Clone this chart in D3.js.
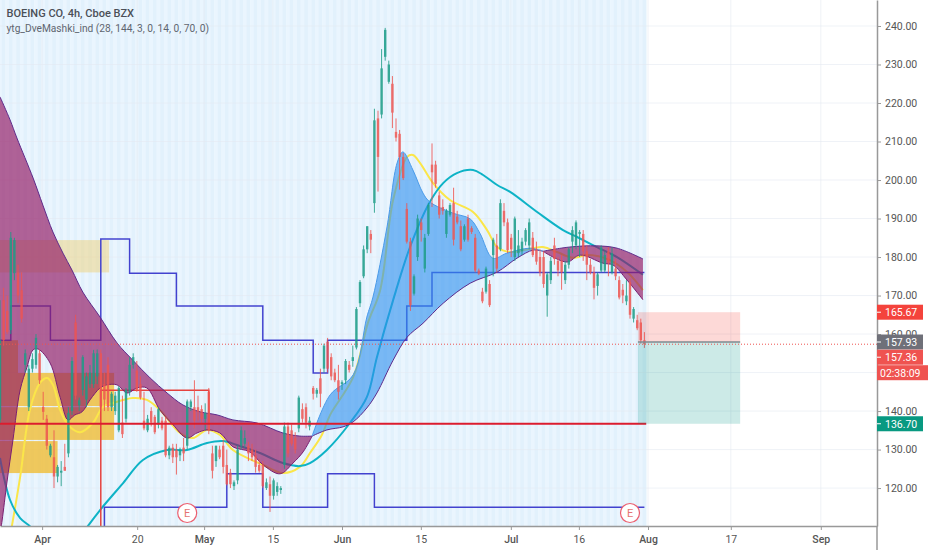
<!DOCTYPE html>
<html>
<head>
<meta charset="utf-8">
<script src="https://cdn.jsdelivr.net/npm/d3@7"></script>
<style>
  body { margin: 0; background: #fff; }
  svg { display: block; }
  text { font-family: Roboto, sans-serif; }
</style>
</head>
<body>
<svg></svg>
<script>
// bar number, open, high, low, close (bars are 4h candles)
const candles = [
[0,137.7,168.8,136.4,158.4],[1,168.8,172,157,158.4],[2,166,170,160,160.5],[3,161,186.5,160,185],[4,175.8,185,174,184.4],
[5,176,178,168,170],[6,171.4,176,163,164],[7,152,156,150,155],[8,141,152,140,151],[9,151,155,150,153.5],
[10,152,160,151,159],[11,155,156,147,148],[12,141.1,145,137.7,139.8],[13,138,139,130,131],[14,128.5,131.5,128,131],
[15,128,135,120,123],[16,123,126,121.5,125.5],[17,124,127,120.5,124.5],[18,125.5,131.5,124.5,124.5],[19,129,141,128,139.5],
[20,140,154,139,153],[21,163,165,143,144],[22,141.5,143.5,140,142.8],[23,145.5,154.5,144,154],[24,143,150,141,149],
[25,147,152,146,150],[26,147,155.9,146,155],[27,149,156,147,155],[28,155,156,140,141],[29,147,150,140,143],
[30,152,154,140,141],[31,141,145,140,144.5],[32,140,145,139,144],[33,135,146.5,134.5,146],[34,137,144,133,134],
[35,138,146,137,145.5],[36,145,154,144,152],[37,152,155,151,154],[38,150.5,153,145,145.5],[39,147,149,143,143.5],
[40,137.5,145,135,135.5],[41,135,139,134.5,138],[42,140,141,136,137],[43,138.5,139,134,134.5],[44,136.5,141,135.5,140.5],
[45,137.5,138.5,135,135.5],[46,137.5,138.5,128,128.5],[47,128.5,131,127.5,130.5],[48,130.5,131.5,126.5,128],[49,130,131.5,123.5,128],
[50,128.5,130.5,127,130],[51,130.5,133,127,129],[52,131,143,130,142.5],[53,141,143,140,142.5],[54,141,148,135.5,137.5],
[55,141,144,137.5,139.8],[56,140.5,141.5,137,138],[57,138,142,135,139.5],[58,145,146,134,135],[59,129,131,122.5,124.5],
[60,127,131,125.5,131],[61,130,131,127.5,128],[62,131,132.5,123.8,125.5],[63,126,130,120.7,121],[64,124,125,120,121],
[65,120.5,122,119.5,121.5],[66,122,131,121,130],[67,131,136,130,135],[68,131.5,135,130.5,133],[69,131,132,127,129],
[70,130,131.5,127,128],[71,128.5,130,124,125.5],[72,126,127.5,124,124.5],[73,126,127,120,120.5],[74,120,122.5,119.5,121.5],
[75,121,123,113.8,118],[76,118,122.5,117,122],[77,119,121.5,118,120.5],[78,119.5,120.5,118.5,120],[79,126,137,125,136],
[80,136,137,128,129],[81,135,136.5,131,131.5],[82,133,134.5,129,130],[83,135.5,144,134.5,143.5],[84,140.5,142,137,138],
[85,141,142,135.5,137],[86,136,138.5,135,137.5],[87,146,146.5,143,144.5],[88,144.5,146,143.5,145.5],[89,148.5,151,141,144.5],
[90,151,157.5,150,157],[91,158,159,150,151],[92,154,155,148,149],[93,150,151,147.5,148],[94,148,152,143,145],
[95,147,148,145.5,147.5],[96,148,153.5,147,153],[97,152,153,150,150.7],[98,153,157,151.5,154],[99,156.5,167,156,166.5],
[100,168,174,167,173.5],[101,175,183,174.5,182],[102,182,188,181,188],[103,186,187,181,184.5],[104,194,218.5,191.5,215.5],
[105,216,218,197,206],[106,217,234,216,229],[107,232,239.5,231,239],[108,225.5,231,225,230],[109,225,227,213.5,217.5],
[110,212.5,216,210,211],[111,212,213,197.5,206],[112,206,207,200,200.5],[113,192.5,194,183.5,184],[114,184,185,166,167.5],
[115,170.5,175.5,170,175],[116,180,191,179,190],[117,189,190,184,187],[118,177,186,176,185],[119,186,194,185.5,193.5],
[120,204,209.5,193,202],[121,204,205,198,199],[122,196,197,190,191],[123,193,195,191,192],[124,186,192.5,185,192],
[125,191,194,190.5,193.5],[126,194,198,183,184.5],[127,190.5,192,188.5,189],[128,188,189.5,181.5,182],[129,184.5,188.5,184,188],
[130,190,191,184,184.5],[131,187.5,188,186,186.5],[132,185,186,176,176.5],[133,176.5,177,175.3,175.7],[134,171,172,168,168.5],
[135,171,177.5,170.5,177],[136,173,174,167,167.5],[137,180.5,185,175,184.5],[138,183,186,176,177],[139,182,195,181.5,194],
[140,192,194,188,189],[141,189,190,181,181.8],[142,185,186,180,182],[143,180,190.5,179,190],[144,181,187,180,183],
[145,181.5,185,180.5,184],[146,184,187.5,183,187],[147,183,190,182,189],[148,185,186.5,180,180.5],[149,182,184,178,178.8],
[150,180,182,175,176],[151,180,181.5,172,173],[152,170,176,164.5,175.5],[153,174,180,173,179],[154,183,185,178,179.5],
[155,179,180,175,176.5],[156,179,180.5,171.5,176],[157,174,179,173,178],[158,178,182.5,177,182],[159,184,188,181,187],
[160,183,189.5,182,189],[161,186,187,180,186.5],[162,186,187,179,181.5],[163,181.5,183,174,178],[164,178,179.5,175.5,176],
[165,176,177.5,169,172],[166,172.5,176,170,175.5],[167,176.5,183,176,182.5],[168,176.5,181.5,176,180.5],[169,181.5,182.5,175,178.5],
[170,176,182.5,175.5,181],[171,177,179.5,174,175],[172,174,175,169,169.5],[173,171.5,173,168,170],[174,168.5,174,167.5,170],
[175,173.5,174.5,164,165],[176,164,167,163,166.5],[177,163.6,165,161,161.5],[178,163,164,157.5,158.4],[179,158.4,160.5,156.4,157.36]
]

// slow and fast averages as [bar, price]; the band between them changes colour where they cross
const slowMa = [[0,221.6],[2.8,215.6],[4.7,210.9],[9.2,200.5],[11.9,193.5],[14.7,186.5],[17.5,181],[20,176.6],[23,170.9],[27.8,164.4],[32.5,157.7],[36.9,153.2],[41.7,148.6],[46.4,144.7],[50.8,141.6],[55.6,139.8],[60.3,139],[64.7,137.7],[71.4,136.9],[78.6,134.3],[83.3,133.5],[86.7,133.5],[90.8,135.1],[95.3,135.9],[98.1,137.2],[101.9,140.8],[104.7,144.7],[109.2,153.2],[113.1,159.2],[117.5,162.8],[123.1,168],[130.6,173.2],[138.1,176.1],[143.6,179.7],[148.1,181.8],[150.8,181.5],[158.3,182.6],[165.8,182.9],[171.4,182.3],[178.6,179.5]]
const fastMa = [[0,108],[0.6,111.7],[1.9,121.3],[3.6,132.5],[5.6,145.5],[7.5,151.4],[9.2,155.9],[10.6,156.1],[13.9,152.5],[16.7,143.6],[18.9,137.7],[20.8,139],[22.8,139.8],[25,142.9],[27.8,146],[29.7,146.8],[32.5,146.8],[35.3,144.7],[38.1,146],[40.8,146],[44.4,140.3],[48.1,136.4],[51.9,133],[54.7,134.3],[57.5,135.1],[61.1,134.3],[64.7,130.7],[69.4,129.4],[73.1,126],[77.8,123.7],[81.4,126.5],[84.2,129.4],[86.7,133.5],[91.7,144.2],[98.1,149.4],[101.9,164.4],[103.6,169.6],[107.5,187.8],[110.3,204.4],[111.9,207.3],[114.7,202.6],[117.5,196.6],[119.4,194.3],[125.8,191.4],[130.6,189.9],[133.3,186.2],[136.9,179.7],[140.8,181],[147.2,182.3],[150.8,181.5],[157.5,178.7],[161.1,180.5],[167.5,178.4],[170.3,177.9],[174.2,174],[178.6,168.9]]
const crossBars = [0, 86.7, 150.8, 178.6]
const bandKinds = ["down", "up", "down"]

const yellowMa = [[3.3,110.1],[5.6,122.9],[8.3,140.3],[11.1,147.3],[13.1,148.6],[14.7,146.8],[16.7,140.3],[18.9,136.4],[22.2,134.5],[25.8,136.9],[28.6,141.1],[31.4,142.1],[36.9,143.4],[40.8,142.9],[44.4,140.3],[50,134.3],[53.6,133],[57.5,135.1],[61.1,133.8],[64.7,129.9],[73.1,126],[78.6,123.9],[83.3,125.5],[86.1,129.1],[89.4,133.8],[91.7,139],[98.1,148.8],[102.2,162.9],[105.6,171.4],[109.2,194.8],[113.1,206],[114.7,206.5],[116.7,204.4],[120.3,199.2],[125,194.8],[131.4,191.7],[135.3,187],[138.1,182.6],[141.7,181.3],[150.8,182.6],[154.7,181.3],[159.2,179.8],[163.1,180.5],[169.4,179.2],[174.2,176.1],[178.6,171.4]]
const tealMa = [[0,127.8],[2.8,116.9],[5.6,112.2],[8.3,110.1],[10,108.6]]
const tealMa2 = [[23.3,108.6],[24.4,110.1],[27.8,114.3],[34.2,121.3],[39.7,127.3],[46.4,129.9],[51.9,129.9],[57.5,131.7],[61.9,132.2],[65.8,131.2],[72.2,129.1],[78.6,126.5],[83.3,125.7],[86.1,126.5],[90.8,129.9],[97.2,136.9],[101.9,143.6],[104.7,154],[109.2,168.8],[113.9,182.6],[119.4,194.3],[123.1,199.2],[126.9,201.8],[131.4,202.6],[134.2,201.3],[138.1,198.7],[141.7,196.9],[149.2,191.7],[156.4,187],[160.3,185.2],[165.8,182.6],[171.4,180],[178.6,175.4]]

// the two blue step lines, [bar, price]
const stepUpper = [[0,158.4],[3,167.3],[14,158.4],[28,184.7],[36,175.8],[49,167.3],[73,158.4],[87,149.9],[91,158.4],[113,167.3],[120,176],[179,176]]
const stepLower = [[29,110],[29,115],[63,123.7],[73,115],[91,123.7],[104,115],[179,115]]

// drawn zones: first bar, last bar, top price, bottom price
const paleZones = [[0,30.3,184.4,176]]
const orangeZones = [[0,5,158.4,149.9],[0,31.7,149.9,141.3],[0,31.7,141,132.5],[0,16,132.2,123.9]]
const redOutline = [[28,110],[28,145.4],[58,145.4],[58,136.7]]
const earningsBars = [52, 175]

const supportPrice = 136.7
const supportBars = [0, 179.5]
const lastPrice = 157.36
const entryPrice = 157.93
const stopPrice = 165.67
const targetPrice = 136.7
const positionBars = [177.2, 205.6]

const priceTicks = [240,230,220,210,200,190,180,170,160,150,140,130,120]
const timeTickBars = [11.7,38.1,56.7,75.8,95,116.9,141.9,160.8,180,203,228]
const timeTickLabels = ["Apr","20","May","15","Jun","15","Jul","16","Aug","17","Sep"]

const width = 932, height = 550
const plotW = 877, plotH = 526

const svg = d3.select("svg").attr("width", width).attr("height", height)

const x = d3.scaleLinear().domain([0, plotW / 3.6]).range([0, plotW])
const y = d3.scaleLinear().domain([246.75, 110.15]).range([0, plotH])

svg.append("clipPath").attr("id", "plot").append("rect")
  .attr("width", plotW).attr("height", plotH)

// the source is a soft screenshot, so the marks get a slight blur
svg.append("filter").attr("id", "soft")
  .append("feGaussianBlur").attr("stdDeviation", 0.45)

const plot = svg.append("g").attr("clip-path", "url(#plot)")

// striped background of the indicator, one stripe per bar
plot.append("g").selectAll("rect")
  .data(candles)
  .join("rect")
  .attr("x", d => x(d[0] - 0.5))
  .attr("width", x(1) - x(0) + 0.3)
  .attr("y", 0)
  .attr("height", plotH)
  .attr("fill", d => d[0] % 2 ? "#e2f1fc" : "#eaf5fe")

// grid
plot.append("g").selectAll("line")
  .data(priceTicks)
  .join("line")
  .attr("x1", 0).attr("x2", plotW)
  .attr("y1", d => y(d)).attr("y2", d => y(d))
  .attr("stroke", "#e4e9f1").attr("stroke-opacity", 0.6)
plot.append("g").selectAll("line")
  .data(timeTickBars)
  .join("line")
  .attr("x1", d => x(d)).attr("x2", d => x(d))
  .attr("y1", 0).attr("y2", plotH)
  .attr("stroke", "#e4e9f1").attr("stroke-opacity", 0.6)

const marksLayer = plot.append("g").attr("filter", "url(#soft)")

function zones(data, fill) {
  marksLayer.append("g").selectAll("rect")
    .data(data)
    .join("rect")
    .attr("x", d => x(d[0]))
    .attr("width", d => x(d[1]) - x(d[0]))
    .attr("y", d => y(d[2]))
    .attr("height", d => y(d[3]) - y(d[2]))
    .attr("fill", fill)
}
zones(paleZones, "rgba(240,200,90,0.4)")
zones(orangeZones, "rgba(240,185,40,0.75)")

const curve = d3.line().x(d => x(d[0])).y(d => y(d[1])).curve(d3.curveCatmullRom)
const step = d3.line().x(d => x(d[0])).y(d => y(d[1])).curve(d3.curveStepAfter)

function drawLine(g, data, color, w) {
  g.append("path")
    .attr("d", curve(data))
    .attr("fill", "none")
    .attr("stroke", color)
    .attr("stroke-width", w)
}

drawLine(marksLayer, yellowMa, "#fbe64a", 2)
drawLine(marksLayer, tealMa, "#10b3c6", 2)
drawLine(marksLayer, tealMa2, "#10b3c6", 2)

// blue steps and red drawing sit under the band
;[stepUpper, stepLower].forEach(data => {
  marksLayer.append("path")
    .attr("d", step(data))
    .attr("fill", "none")
    .attr("stroke", "#4343cf")
    .attr("stroke-width", 1.5)
})
marksLayer.append("path")
  .attr("d", d3.line().x(d => x(d[0])).y(d => y(d[1]))(redOutline))
  .attr("fill", "none")
  .attr("stroke", "#e5423f")
  .attr("stroke-width", 1.5)

// band between slow and fast, split at the crossings
bandKinds.forEach((kind, i) => {
  const from = crossBars[i], to = crossBars[i + 1]
  const upper = slowMa.filter(d => d[0] >= from && d[0] <= to)
  const lower = fastMa.filter(d => d[0] >= from && d[0] <= to).reverse()
  marksLayer.append("path")
    .attr("d", curve(upper) + "L" + curve(lower).slice(1) + "Z")
    .attr("fill", kind == "up" ? "#2b8fee" : "#931c66")
    .attr("fill-opacity", kind == "up" ? 0.6 : 0.68)
  drawLine(marksLayer, upper, "#5d2a8a", 1)
  drawLine(marksLayer, lower, kind == "up" ? "#4a9ae8" : "#7a1f70", 1)
})

// candles, slightly see-through over the band
const isUp = d => d[4] >= d[1]
const candleColor = d => isUp(d) ? "#1c9c86" : "#ee5450"
const candleLayer = marksLayer.append("g").attr("opacity", 0.85)
candleLayer.append("g").selectAll("line")
  .data(candles)
  .join("line")
  .attr("x1", d => x(d[0])).attr("x2", d => x(d[0]))
  .attr("y1", d => y(d[2])).attr("y2", d => y(d[3]))
  .attr("stroke", candleColor)
candleLayer.append("g").selectAll("rect")
  .data(candles)
  .join("rect")
  .attr("x", d => x(d[0]) - 1.2)
  .attr("width", 2.4)
  .attr("y", d => y(Math.max(d[1], d[4])))
  .attr("height", d => Math.max(1, Math.abs(y(d[1]) - y(d[4]))))
  .attr("fill", candleColor)

// support line
marksLayer.append("line")
  .attr("x1", x(supportBars[0])).attr("x2", x(supportBars[1]))
  .attr("y1", y(supportPrice)).attr("y2", y(supportPrice))
  .attr("stroke", "#dc1c2e")
  .attr("stroke-width", 2)

// long position tool
plot.append("rect")
  .attr("x", x(positionBars[0])).attr("width", x(positionBars[1]) - x(positionBars[0]))
  .attr("y", y(stopPrice)).attr("height", y(entryPrice) - y(stopPrice))
  .attr("fill", "rgba(244,67,54,0.2)")
plot.append("rect")
  .attr("x", x(positionBars[0])).attr("width", x(positionBars[1]) - x(positionBars[0]))
  .attr("y", y(entryPrice)).attr("height", y(targetPrice) - y(entryPrice))
  .attr("fill", "rgba(0,150,136,0.2)")
plot.append("line")
  .attr("x1", x(positionBars[0])).attr("x2", x(positionBars[1]))
  .attr("y1", y(entryPrice)).attr("y2", y(entryPrice))
  .attr("stroke", "#7d8a90")
  .attr("stroke-width", 1.5)

// last price
plot.append("line")
  .attr("x1", 0).attr("x2", plotW)
  .attr("y1", y(lastPrice)).attr("y2", y(lastPrice))
  .attr("stroke", "#ef5350")
  .attr("stroke-dasharray", "1,2")

// earnings marks
const marks = plot.append("g").selectAll("g")
  .data(earningsBars)
  .join("g")
  .attr("transform", d => `translate(${x(d)},513)`)
marks.append("circle")
  .attr("r", 9.5)
  .attr("fill", "#fff")
  .attr("stroke", "#ec5f70")
  .attr("stroke-width", 1.2)
marks.append("text")
  .attr("text-anchor", "middle")
  .attr("dy", 4)
  .attr("font-size", 11)
  .attr("fill", "#e57373")
  .text("E")

// axes; 150.00 is covered by the countdown label in the source, so it is left out
const yAxis = d3.axisRight(y)
  .tickValues(priceTicks.filter(d => d != 150))
  .tickFormat(d3.format(".2f"))
  .tickSize(4)
  .tickSizeOuter(0)
const xAxis = d3.axisBottom(x)
  .tickValues(timeTickBars)
  .tickFormat((d, i) => timeTickLabels[i])
  .tickSize(4)
  .tickSizeOuter(0)

const yG = svg.append("g").attr("transform", `translate(${plotW},0)`).call(yAxis)
const xG = svg.append("g").attr("transform", `translate(0,${plotH})`).call(xAxis)
yG.selectAll("text").attr("x", 8).attr("font-size", 10.5).attr("fill", "#555")
xG.selectAll("text").attr("y", 9.5).attr("font-size", 10.5).attr("fill", "#555")
  .attr("font-weight", (d, i) => /[A-Za-z]/.test(timeTickLabels[i]) ? 500 : 400)
yG.selectAll(".tick line").attr("stroke", "#999")
xG.selectAll(".tick line").attr("stroke", "#999")
yG.select(".domain").attr("stroke", "#999").attr("stroke-width", 1.5)
xG.select(".domain").attr("stroke", "#999").attr("stroke-width", 1.5)
svg.append("line")
  .attr("x1", plotW).attr("x2", plotW)
  .attr("y1", plotH).attr("y2", height)
  .attr("stroke", "#999").attr("stroke-width", 1.5)

// price labels on the axis, [text, centre price, fill, width]
const labelRows = [
  ["165.67", stopPrice, "#f4433c", 46],
  ["157.93", entryPrice, "#6f7079", 46],
  [lastPrice.toFixed(2), lastPrice, "#ef5350", 46],
  ["02:38:09", lastPrice, "#ef5350", 51],
  ["136.70", targetPrice, "#089981", 46]
]
// the last two are pushed below the grey label so they stay readable
const labelShift = [0, 0, 13, 28.5, 0]
const labels = svg.append("g").selectAll("g")
  .data(labelRows)
  .join("g")
  .attr("transform", (d, i) => `translate(${plotW},${y(d[1]) + labelShift[i]})`)
labels.append("rect")
  .attr("y", -7.5).attr("height", 15)
  .attr("width", d => d[3])
  .attr("fill", d => d[2])
labels.filter((d, i) => i != 3).append("line")
  .attr("x2", 4).attr("stroke", "#fff")
labels.append("text")
  .attr("x", (d, i) => i == 3 ? 3 : 8)
  .attr("dy", 3.8)
  .attr("font-size", 10.5)
  .attr("fill", "#fff")
  .text(d => d[0])

// header
svg.append("text")
  .attr("x", 6.5).attr("y", 17)
  .attr("font-size", 11).attr("font-weight", 500).attr("fill", "#4a4f57")
  .text("BOEING CO, 4h, Cboe BZX")
svg.append("text")
  .attr("x", 6.5).attr("y", 31.5)
  .attr("font-size", 10.2).attr("fill", "#5f6670")
  .text("ytg_DveMashki_ind (28, 144, 3, 0, 14, 0, 70, 0)")
</script>
</body>
</html>
